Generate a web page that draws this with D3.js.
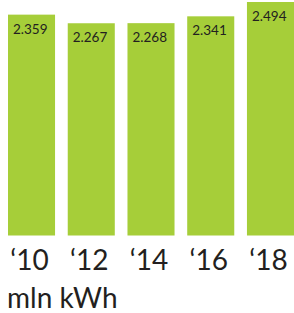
<!DOCTYPE html>
<html lang="en">
<head>
    <meta charset="utf-8">
    <title>Electricity</title>
    <style>
        body { margin: 0; background: #fff; }
        text { font-family: Lato, "Open Sans", sans-serif; fill: #231f20; }
    </style>
</head>
<body>
    <div id="container"></div>
    <script src="https://cdn.jsdelivr.net/npm/d3@7"></script>
    <script>
        // Chart data
        const years = ["\u201810", "\u201812", "\u201814", "\u201816", "\u201818"];
        const values = [2.359, 2.267, 2.268, 2.341, 2.494];
        const valueLabels = ["2.359", "2.267", "2.268", "2.341", "2.494"];
        const unitLabel = "mln kWh";

        const width = 294;
        const height = 313;
        const baseline = 235.5;

        const svg = d3.select("#container").append("svg")
            .attr("width", width)
            .attr("height", height);

        const x = d3.scaleBand()
            .domain(years)
            .range([8, 294])
            .paddingInner(0.2125);

        const y = d3.scaleLinear()
            .domain([0, 2.494])
            .range([baseline, 2]);

        // Bars
        svg.selectAll("rect")
            .data(values)
            .enter().append("rect")
            .attr("x", (d, i) => x(years[i]))
            .attr("y", d => y(d))
            .attr("width", x.bandwidth())
            .attr("height", d => baseline - y(d))
            .attr("fill", "#a6ce39");

        // Value labels inside bars
        svg.selectAll(".val")
            .data(values)
            .enter().append("text")
            .attr("class", "val")
            .attr("x", (d, i) => x(years[i]) + 5)
            .attr("y", d => y(d) + 19)
            .attr("font-size", 13.5)
            .text((d, i) => valueLabels[i]);

        // Year labels
        svg.selectAll(".year")
            .data(years)
            .enter().append("text")
            .attr("class", "year")
            .attr("text-anchor", "middle")
            .attr("x", d => x(d) + x.bandwidth() / 2 - 2)
            .attr("y", 270)
            .attr("font-size", 28)
            .text(d => d);

        // Unit label
        svg.append("text")
            .attr("x", 7)
            .attr("y", 308)
            .attr("font-size", 28)
            .text(unitLabel);
    </script>
</body>
</html>
